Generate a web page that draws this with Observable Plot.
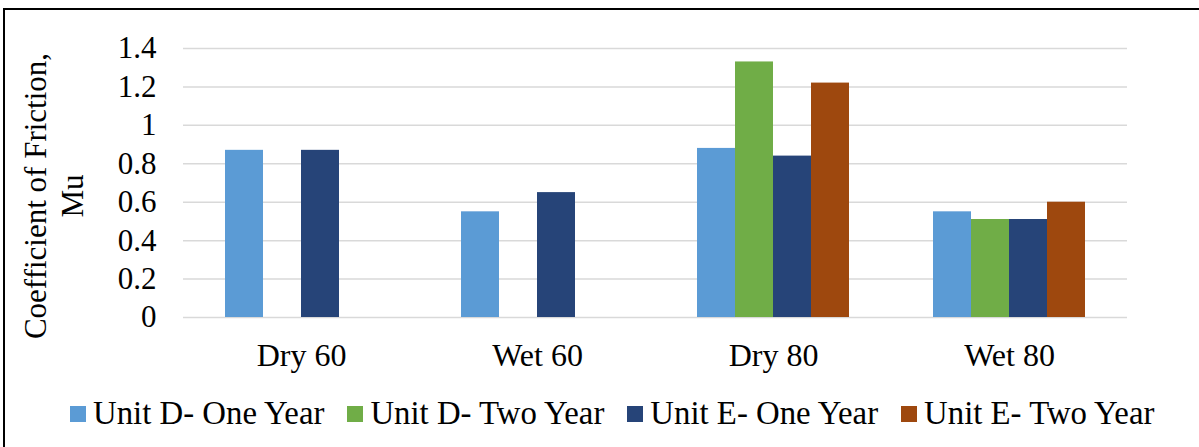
<!DOCTYPE html>
<html>
<head>
<meta charset="utf-8">
<script src="https://cdn.jsdelivr.net/npm/d3@7"></script>
<script src="https://cdn.jsdelivr.net/npm/@observablehq/plot@0.6"></script>
<style>
  body { margin: 0; background: #fff; }
  #wrap { position: relative; width: 1199px; height: 447px; overflow: hidden; font-family: "Liberation Serif", "Times New Roman", serif; color: #000; }
  #frame { position: absolute; left: 3px; top: 8px; width: 1196px; height: 439px; border-left: 2px solid #000; border-top: 2px solid #000; box-sizing: border-box; }
  #chart { position: absolute; left: 0; top: 0; }
  #ytitle { position: absolute; left: 54px; top: 196px; transform: translate(-50%, -50%) rotate(-90deg); text-align: center; font-size: 31px; line-height: 37px; white-space: nowrap; }
  #legend { position: absolute; left: 70px; top: 395px; display: flex; align-items: center; gap: 23px; font-size: 32.8px; white-space: nowrap; }
  .item { display: flex; align-items: center; }
  .sw { width: 16px; height: 16px; margin-right: 7px; flex: none; }
</style>
</head>
<body>
<div id="wrap">
  <div id="frame"></div>
  <div id="chart"></div>
  <div id="ytitle">Coefficient of Friction,<br>Mu</div>
  <div id="legend"></div>
</div>
<script>
const categories = ["Dry 60", "Wet 60", "Dry 80", "Wet 80"];
const series = ["Unit D- One Year", "Unit D- Two Year", "Unit E- One Year", "Unit E- Two Year"];
const unitDOneYear = [0.87, 0.55, 0.88, 0.55];
const unitDTwoYear = [null, null, 1.33, 0.51];
const unitEOneYear = [0.87, 0.65, 0.84, 0.51];
const unitETwoYear = [null, null, 1.22, 0.60];
const yTicks = [0, 0.2, 0.4, 0.6, 0.8, 1, 1.2, 1.4];
const colors = ["#5B9BD5", "#70AD47", "#264478", "#9E480E"];

const seriesValues = [unitDOneYear, unitDTwoYear, unitEOneYear, unitETwoYear];
const data = [];
categories.forEach((c, i) => {
  series.forEach((s, j) => {
    const v = seriesValues[j][i];
    if (v != null) data.push({category: c, series: s, value: v});
  });
});

const font = '"Liberation Serif", "Times New Roman", serif';

const chart = Plot.plot({
  width: 1199,
  height: 378,
  marginLeft: 183,
  marginRight: 72,
  marginTop: 48,
  marginBottom: 61,
  style: {fontFamily: font, fontSize: "31px", background: "transparent", color: "#000"},
  fx: {domain: categories, padding: 0, label: null},
  x: {domain: series, paddingInner: 0, paddingOuter: 1.105, axis: null},
  y: {domain: [0, 1.4], label: null},
  color: {domain: series, range: colors},
  marks: [
    Plot.gridY(yTicks, {stroke: "#d9d9d9", strokeOpacity: 1, strokeWidth: 1.5}),
    Plot.barY(data, {fx: "category", x: "series", y: "value", fill: "series"}),
    Plot.axisY(yTicks, {anchor: "left", tickSize: 0, tickPadding: 27, label: null, tickFormat: d => String(+d.toFixed(1)), fontSize: 31, fill: "#000"}),
    Plot.axisFx({anchor: "bottom", tickSize: 0, tickPadding: 26, label: null, fontSize: 32, fill: "#000"})
  ]
});
document.getElementById("chart").appendChild(chart);

const legend = document.getElementById("legend");
series.forEach((s, i) => {
  const item = document.createElement("div");
  item.className = "item";
  const sw = document.createElement("span");
  sw.className = "sw";
  sw.style.background = colors[i];
  const t = document.createElement("span");
  t.textContent = s;
  item.appendChild(sw);
  item.appendChild(t);
  legend.appendChild(item);
});
</script>
</body>
</html>
